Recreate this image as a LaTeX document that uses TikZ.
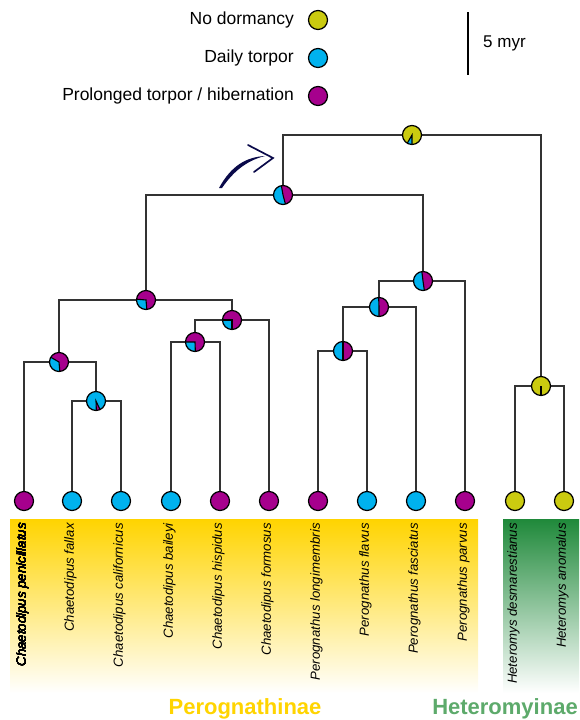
\documentclass[tikz,border=0pt]{standalone}
\usepackage{fontspec}
\setmainfont{Liberation Sans}
\usetikzlibrary{calc}
\definecolor{colY}{HTML}{CBCB10}
\definecolor{colB}{HTML}{00B2EE}
\definecolor{colM}{HTML}{A6008D}
\definecolor{gold}{HTML}{FFD400}
\definecolor{dgreen}{HTML}{1F893A}
\definecolor{lgreen}{HTML}{5DAA6B}
\definecolor{navyarrow}{HTML}{0A0A4A}
\newcommand{\piechart}[5]{%
  \begin{scope}[shift={(#1)}, yscale=-1]
    \fill[#2] (0,0) circle (9.5);
    \fill[#3] (0,0) -- (#4:9.5) arc[start angle=#4, end angle=#5, radius=9.5] -- cycle;
    \draw[line width=1.1] (#4:9.5) -- (0,0) -- (#5:9.5);
    \draw[line width=1.2] (0,0) circle (9.5);
  \end{scope}}
\newcommand{\tipdot}[2]{%
  \draw[line width=1.2, fill=#2] (#1) circle (9.5);}
\begin{document}
\begin{tikzpicture}[x=1pt, y=-1pt,
  branch/.style={draw=black!80, line width=1.2},
  tiplabel/.style={rotate=90, anchor=east, inner sep=0pt, font=\fontsize{13.2}{15}\selectfont\itshape},
  legtext/.style={anchor=east, inner sep=0pt, font=\fontsize{17.5}{20}\selectfont},
  cladetext/.style={anchor=base, inner sep=0pt, font=\fontsize{22}{24}\selectfont\bfseries}]
\useasboundingbox (0,0) rectangle (579,720);
% bands
\shade[top color=gold, bottom color=white] (10,519) rectangle (478,693);
\shade[top color=dgreen, bottom color=white] (503,519) rectangle (579,693);
% coordinates
\coordinate (n1) at (412,135);
\coordinate (n2) at (283,195);
\coordinate (n3) at (146,300);
\coordinate (n4) at (59,362);
\coordinate (n5) at (96,401);
\coordinate (n6) at (232,320);
\coordinate (n7) at (195,342);
\coordinate (n8) at (423,281);
\coordinate (n9) at (379,307);
\coordinate (n10) at (343,351);
\coordinate (n12) at (541,386);
\foreach \i/\x in {1/24,2/72,3/121,4/171,5/220,6/269,7/318,8/367,9/416,10/465,11/515,12/564}
  \coordinate (t\i) at (\x,501);
% branches
\draw[branch] (n2) |- (n1) -| (n12);
\draw[branch] (n3) |- (n2) -| (n8);
\draw[branch] (n4) |- (n3) -| (n6);
\draw[branch] (t1) |- (n4) -| (n5);
\draw[branch] (t2) |- (n5) -| (t3);
\draw[branch] (n7) |- (n6) -| (t6);
\draw[branch] (t4) |- (n7) -| (t5);
\draw[branch] (n9) |- (n8) -| (t10);
\draw[branch] (n10) |- (n9) -| (t9);
\draw[branch] (t7) |- (n10) -| (t8);
\draw[branch] (t11) |- (n12) -| (t12);
% internal pies
\piechart{n1}{colY}{colB}{240}{270}
\piechart{n2}{colM}{colB}{100}{285}
\piechart{n3}{colM}{colB}{175}{275}
\piechart{n4}{colM}{colB}{150}{275}
\piechart{n5}{colB}{colM}{272}{295}
\piechart{n6}{colM}{colB}{180}{270}
\piechart{n7}{colM}{colB}{180}{272}
\piechart{n8}{colM}{colB}{97}{278}
\piechart{n9}{colM}{colB}{92}{270}
\piechart{n10}{colM}{colB}{90}{270}
\piechart{n12}{colY}{colY}{270}{270}
% tips
\foreach \i/\c in {1/colM,2/colB,3/colB,4/colB,5/colM,6/colM,7/colM,8/colB,9/colB,10/colM,11/colY,12/colY}
  \tipdot{t\i}{\c}
% tip labels
\node[tiplabel] (l1) at (22.5,523) {Chaetodipus penicillatus};
\node[tiplabel] (l2) at (70.5,523) {Chaetodipus fallax};
\node[tiplabel] (l3) at (119.5,523) {Chaetodipus californicus};
\node[tiplabel] (l4) at (169.5,523) {Chaetodipus baileyi};
\node[tiplabel] (l5) at (218.5,523) {Chaetodipus hispidus};
\node[tiplabel] (l6) at (267.5,523) {Chaetodipus formosus};
\node[tiplabel] (l7) at (316.5,523) {Perognathus longimembris};
\node[tiplabel] (l8) at (365.5,523) {Perognathus flavus};
\node[tiplabel] (l9) at (414.5,523) {Perognathus fasciatus};
\node[tiplabel] (l10) at (463.5,523) {Perognathus parvus};
\node[tiplabel] (l11) at (513.5,523) {Heteromys desmarestianus};
\node[tiplabel] (l12) at (562.5,523) {Heteromys anomalus};
% clade labels
\node[cladetext, text=gold] (c1) at (245,714) {Perognathinae};
\node[cladetext, text=lgreen] (c2) at (505,714) {Heteromyinae};
% legend
\node[legtext] (g1) at (294,20) {No dormancy};
\node[legtext] (g2) at (294,58) {Daily torpor};
\node[legtext] (g3) at (294,96) {Prolonged torpor / hibernation};
\coordinate (d1) at (318,20);
\coordinate (d2) at (318,58);
\coordinate (d3) at (318,96);
\tipdot{d1}{colY}
\tipdot{d2}{colB}
\tipdot{d3}{colM}
% scale bar
\coordinate (s1) at (468,12);
\coordinate (s2) at (468,75);
\draw[line width=1.4] (s1) -- (s2);
\node[anchor=west, inner sep=0pt, font=\fontsize{17}{20}\selectfont] (sl) at (483,43) {5 myr};
% arrow
\fill[navyarrow] (219,188) .. controls (231,166) and (246,157) .. (265,156)
  .. controls (249,160) and (235,169) .. (222,188) -- cycle;
\draw[navyarrow, line width=1.7, line cap=round, line join=miter] (248,145) -- (273,158) -- (254,172);
\end{tikzpicture}
\end{document}
